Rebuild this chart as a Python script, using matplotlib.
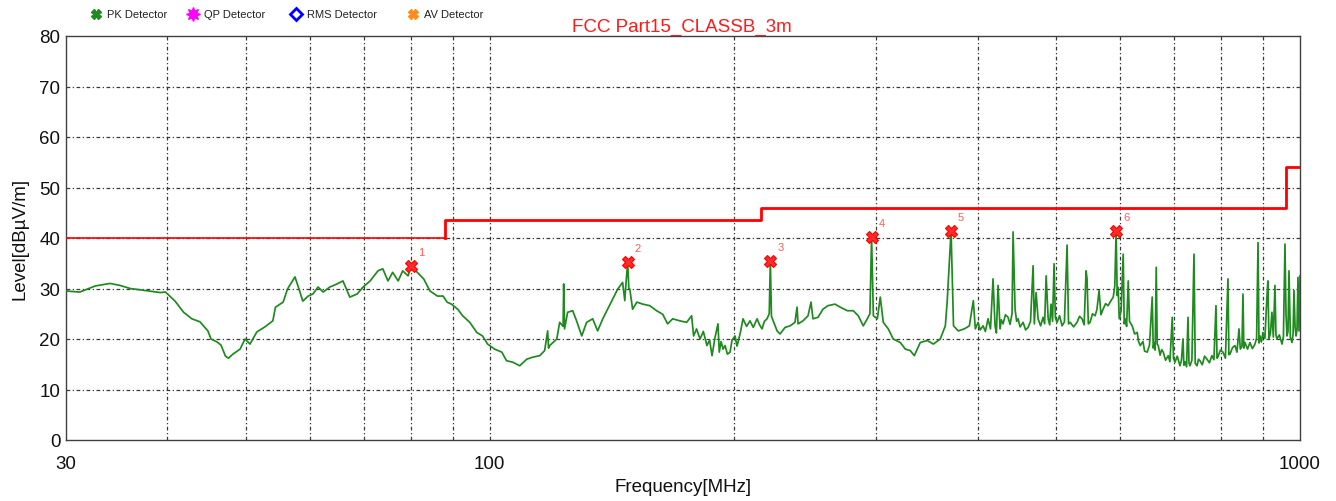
import matplotlib
matplotlib.use("Agg")
import matplotlib.pyplot as plt
from matplotlib.lines import Line2D
from matplotlib.ticker import FixedLocator, NullFormatter

plt.rcParams['font.family'] = ['Liberation Sans', 'DejaVu Sans']

# Measured field strength (PK detector), frequency in MHz and level in dBuV/m
freq_mhz = [
    30.0, 31.2, 32.6, 34.0, 35.0, 36.0, 37.6, 39.2, 39.8, 40.9, 41.9, 42.9, 43.9, 44.9,
    45.3, 46.1, 46.6, 47.2, 47.6, 48.2, 49.2, 49.9, 50.6, 51.6, 52.8, 54.0, 54.4, 55.6,
    56.3, 57.5, 58.0, 58.8, 59.7, 60.5, 61.4, 62.3, 63.5, 64.8, 65.9, 67.2, 68.6, 69.8,
    71.2, 72.8, 73.8, 74.9, 75.9, 77.1, 78.1, 79.3, 80.0, 81.4, 82.9, 84.4, 86.2, 87.6,
    88.6, 89.7, 91.3, 92.6, 94.5, 96.4, 98.0, 99.4, 101.4, 103.5, 104.9, 106.8, 108.9,
    111.1, 113.0, 115.3, 116.9, 117.9, 118.2, 118.6, 121.0, 122.0, 123.2, 123.4, 123.7,
    124.8, 126.6, 128.0, 129.9, 131.7, 134.0, 135.9, 137.9, 139.8, 141.8, 143.9, 145.9,
    146.8, 147.3, 148.0, 148.5, 148.9, 150.1, 151.9, 154.5, 157.6, 160.7, 163.5, 165.8,
    168.2, 171.6, 175.0, 177.5, 178.5, 180.0, 181.8, 183.5, 185.4, 186.8, 188.1, 189.7,
    191.3, 192.0, 193.0, 194.1, 195.2, 196.5, 198.0, 199.1, 200.8, 201.9, 202.5, 204.0,
    205.4, 207.5, 209.5, 211.5, 213.8, 215.3, 216.8, 218.3, 219.9, 221.3, 222.0, 222.7,
    226.3, 228.2, 231.5, 234.8, 238.1, 239.5, 240.2, 243.6, 247.1, 249.2, 250.6, 254.2,
    257.8, 261.5, 266.8, 270.8, 276.3, 281.0, 285.0, 289.1, 292.4, 294.6, 296.0, 297.5,
    300.9, 303.4, 306.0, 310.4, 314.8, 321.2, 325.8, 330.4, 334.2, 339.9, 346.8, 352.8,
    359.8, 365.0, 366.9, 371.0, 373.6, 378.7, 385.2, 390.8, 395.2, 397.5, 400.6, 403.0,
    406.3, 409.0, 412.1, 415.0, 418.0, 420.4, 422.0, 424.0, 426.4, 428.0, 430.1, 433.0,
    436.2, 438.7, 441.2, 442.5, 445.0, 447.0, 448.8, 451.4, 455.3, 458.5, 461.8, 465.0,
    468.4, 470.0, 472.4, 475.1, 478.5, 481.9, 484.0, 486.1, 488.9, 491.0, 492.9, 495.0,
    497.2, 499.0, 501.4, 505.0, 508.6, 512.0, 515.9, 518.0, 520.4, 525.5, 530.7, 534.5,
    538.3, 541.5, 544.5, 546.0, 548.0, 550.7, 554.5, 558.6, 561.5, 565.0, 568.0, 571.4,
    575.5, 579.6, 584.0, 588.2, 590.8, 593.0, 594.9, 596.5, 598.3, 601.5, 605.1, 606.8,
    608.6, 611.0, 613.8, 616.0, 620.8, 625.0, 629.7, 632.0, 635.1, 640.0, 643.0, 647.8,
    652.0, 657.1, 659.0, 660.8, 662.6, 664.6, 666.5, 668.4, 672.0, 675.0, 678.0, 682.5,
    687.7, 691.0, 695.6, 698.0, 701.0, 705.5, 711.0, 714.0, 717.1, 719.0, 721.2, 724.5,
    727.4, 729.5, 731.5, 735.5, 739.9, 742.5, 746.3, 749.5, 752.6, 757.5, 762.5, 767.7,
    773.0, 778.7, 783.0, 787.6, 790.0, 792.1, 797.5, 803.4, 809.0, 814.9, 817.0, 819.6,
    825.5, 831.3, 836.0, 840.8, 844.0, 848.0, 850.4, 852.5, 855.3, 861.5, 867.5, 873.5,
    880.0, 884.0, 887.6, 890.0, 892.6, 896.0, 900.0, 905.0, 910.3, 912.8, 915.5, 919.5,
    923.3, 927.0, 931.3, 934.0, 936.6, 943.0, 950.1, 954.0, 958.2, 961.0, 963.7, 966.5,
    969.2, 973.0, 977.5, 980.5, 983.1, 986.0, 988.8, 991.5, 994.3, 997.2, 1000.0,
]
level_dbuv = [
    29.5, 29.3, 30.5, 31.0, 30.6, 30.0, 29.6, 29.2, 29.3, 27.5, 25.3, 24.0, 23.4, 21.6,
    20.0, 19.4, 18.8, 16.6, 16.2, 17.0, 18.0, 20.0, 19.0, 21.4, 22.4, 23.6, 26.3, 27.3,
    29.9, 32.3, 30.5, 27.5, 28.5, 28.9, 30.3, 29.3, 30.3, 30.9, 31.5, 28.3, 28.9, 30.3,
    31.5, 33.5, 33.9, 31.5, 33.2, 31.5, 33.5, 32.5, 34.4, 33.2, 31.9, 29.5, 28.5, 28.5,
    27.3, 26.9, 25.9, 24.6, 23.3, 21.3, 20.6, 19.0, 18.0, 17.4, 15.7, 15.4, 14.7,
    16.0, 16.4, 16.7, 17.7, 21.6, 18.2, 18.7, 20.0, 23.3, 22.5, 30.9, 22.0,
    25.3, 25.6, 23.6, 20.6, 23.3, 24.0, 21.6, 24.0, 25.9, 27.9, 29.9, 31.2,
    27.6, 31.0, 35.2, 30.0, 29.9, 25.9, 27.3, 26.9, 26.6, 25.6, 24.9, 23.0,
    24.0, 23.6, 23.3, 24.6, 20.6, 22.0, 20.0, 21.5, 18.7, 19.8, 16.7, 20.3,
    23.0, 17.4, 19.5, 18.0, 18.7, 17.0, 17.4, 19.8, 20.6, 18.6, 19.3, 21.5,
    24.0, 22.5, 23.6, 22.3, 24.0, 22.8, 22.0, 23.5, 24.0, 25.0, 35.4, 24.5,
    21.6, 21.0, 22.3, 22.6, 23.3, 26.3, 23.0, 23.6, 24.6, 27.3, 24.0, 24.3,
    25.9, 26.6, 26.9, 26.3, 25.6, 25.6, 24.6, 22.6, 24.0, 25.0, 40.1, 24.6,
    24.0, 28.3, 23.3, 22.0, 20.0, 19.3, 18.0, 17.7, 16.7, 19.3, 19.7, 19.0,
    20.0, 22.6, 27.3, 41.4, 22.6, 21.6, 22.0, 22.6, 27.6, 22.0, 23.3, 21.8,
    22.6, 21.5, 24.0, 22.0, 31.9, 22.6, 21.2, 30.6, 22.0, 23.8, 23.0, 24.8,
    24.3, 22.9, 25.0, 41.2, 25.9, 23.5, 24.0, 22.4, 23.3, 21.8, 22.3, 23.5,
    34.5, 23.0, 29.2, 24.0, 22.6, 24.3, 23.0, 32.5, 24.0, 22.8, 26.9, 23.5,
    34.9, 24.2, 23.3, 24.6, 22.6, 23.4, 38.6, 23.0, 23.3, 22.4, 23.3, 24.5,
    24.0, 22.8, 33.5, 31.9, 23.0, 23.3, 25.0, 24.6, 25.8, 29.6, 24.8, 25.9,
    27.0, 26.6, 27.5, 28.3, 30.5, 41.3, 28.6, 30.2, 24.0, 25.6, 36.8, 23.0,
    24.0, 22.5, 31.5, 23.5, 22.6, 21.0, 21.3, 19.5, 18.7, 19.5, 17.6, 17.4,
    18.8, 28.3, 18.2, 19.3, 17.8, 34.2, 19.0, 18.7, 16.8, 17.9, 17.4, 15.8,
    16.7, 15.5, 24.3, 16.2, 15.4, 16.6, 14.7, 15.8, 20.0, 14.8, 15.5, 14.5,
    24.3, 15.2, 14.7, 15.8, 36.8, 15.2, 14.7, 16.0, 15.7, 14.9, 16.6, 16.0,
    15.3, 16.7, 15.9, 26.6, 16.2, 16.5, 17.8, 17.4, 16.2, 31.9, 16.9, 17.0,
    18.3, 18.7, 17.4, 22.0, 18.0, 18.5, 28.9, 18.2, 19.3, 18.0, 19.3, 18.1,
    19.0, 20.2, 39.1, 19.2, 20.6, 19.4, 21.3, 20.1, 28.3, 31.5, 20.0, 21.2,
    25.3, 20.4, 30.6, 20.8, 20.0, 20.8, 19.0, 20.5, 38.8, 25.0, 20.6, 21.5,
    33.5, 20.3, 19.3, 21.0, 29.6, 22.5, 20.6, 21.8, 32.2, 21.6, 32.5,
]

# FCC Part 15 Class B (3 m) limit: band edges and limits
limit_edges_mhz = [30, 88, 216, 960, 1000]
limit_levels = [40.0, 43.5, 46.0, 54.0]

# Marked peaks
peak_freq = [80.0, 148.0, 222.0, 296.0, 371.0, 593.0]
peak_level = [34.4, 35.2, 35.4, 40.1, 41.4, 41.3]
peak_ids = ["1", "2", "3", "4", "5", "6"]

legend_labels = ["PK Detector", "QP Detector", "RMS Detector", "AV Detector"]
title_text = "FCC Part15_CLASSB_3m"
x_ticks = [30, 100, 1000]
y_ticks = [0, 10, 20, 30, 40, 50, 60, 70, 80]

W, H = 1336, 502
fig = plt.figure(figsize=(W / 100, H / 100), dpi=100)
ax = fig.add_axes([66 / W, 1 - 441 / H, (1300 - 66) / W, (441 - 37) / H])

ax.set_xscale('log')
ax.set_xlim(30, 1000)
ax.set_ylim(0, 80)

# grid
grid_style = dict(color='#3a3a3a', lw=0.9, ls=(0, (3, 2, 1, 2)), zorder=1)
for f in [40, 50, 60, 70, 80, 90, 100, 200, 300, 400, 500, 600, 700, 800, 900]:
    ax.axvline(f, **grid_style)
for lv in y_ticks[1:-1]:
    ax.axhline(lv, **grid_style)

# limit line
ax.plot(limit_edges_mhz[:2], [limit_levels[0]] * 2, color='#ff0000', lw=1.2, zorder=3)
step_x = [limit_edges_mhz[1]]
step_y = [limit_levels[0]]
for i in range(1, len(limit_levels)):
    step_x += [limit_edges_mhz[i], limit_edges_mhz[i + 1]]
    step_y += [limit_levels[i], limit_levels[i]]
ax.plot(step_x, step_y, color='#ff0000', lw=2.0, zorder=3)

# measured trace
ax.plot(freq_mhz, level_dbuv, color='#1f8a1f', lw=1.25, zorder=4)

# peak markers
ax.plot(peak_freq, peak_level, ls='none', marker='X', ms=9,
        mfc='#ff2a2a', mec='#ff0000', mew=0.8, zorder=6)
for f, lv, t in zip(peak_freq, peak_level, peak_ids):
    ax.annotate(t, (f, lv), xytext=(10, 14), textcoords='offset pixels',
                color='#ff5a5a', fontsize=8, ha='center', va='center', zorder=7)

# axes styling
for s in ax.spines.values():
    s.set_color('#404040')
    s.set_linewidth(1.0)
ax.xaxis.set_major_locator(FixedLocator(x_ticks))
ax.xaxis.set_minor_locator(FixedLocator([]))
ax.xaxis.set_minor_formatter(NullFormatter())
ax.set_xticklabels([str(t) for t in x_ticks])
ax.set_yticks(y_ticks)
ax.tick_params(axis='both', length=0, labelsize=13.5, colors='#111111')
ax.tick_params(axis='x', pad=11)
ax.tick_params(axis='y', pad=4)
ax.set_xlabel("Frequency[MHz]", fontsize=13.5, color='#111111', labelpad=4)
ax.set_ylabel("Level[dBµV/m]", fontsize=13.5, color='#111111', labelpad=8)

# title
fig.text(682 / W, 1 - 27 / H, title_text, color='#ff1a1a', fontsize=13.5,
         ha='center', va='center')

# detector legend
legend_markers = [
    dict(marker='X', color='#1f8a1f', ms=7),
    dict(marker=(8, 1, 0), color='#ff00ff', ms=10),
    dict(marker='D', color='none', mec='#0000ff', mew=2.0, ms=6),
    dict(marker='X', color='#ff8c1a', ms=7),
]
marker_x = [96, 193, 296, 413]
for lbl, mx, style in zip(legend_labels, marker_x, legend_markers):
    st = dict(style)
    col = st.pop('color')
    mec = st.pop('mec', col)
    fig.add_artist(Line2D([mx / W], [1 - 15 / H], ls='none', mfc=col, mec=mec,
                          transform=fig.transFigure, **st))
    fig.text((mx + 11) / W, 1 - 15 / H, lbl, fontsize=8, color='#222222',
             ha='left', va='center')

fig.savefig('out.png', dpi=100)
